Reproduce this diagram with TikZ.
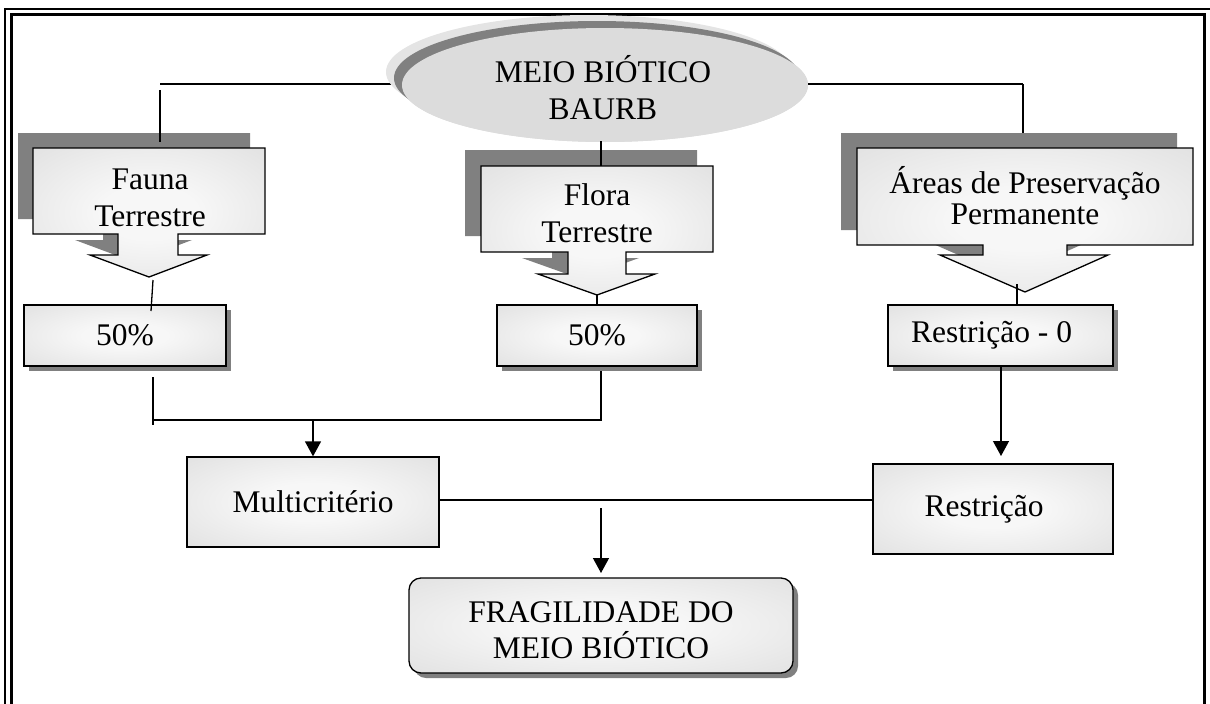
\documentclass[tikz,border=0pt]{standalone}
\usepackage{fontspec}
\setmainfont{Liberation Serif}
\usetikzlibrary{arrows.meta,shapes.geometric,shadows}
\definecolor{shad}{HTML}{808080}
\definecolor{lightshad}{HTML}{E4E4E4}
\definecolor{ellfill}{HTML}{DCDCDC}
\definecolor{glowin}{gray}{0.97}
\definecolor{glowout}{gray}{0.84}
\pgfdeclareradialshading{boxglow}{\pgfpoint{0bp}{0bp}}{color(0bp)=(glowin); color(10bp)=(glowin); color(50bp)=(glowout); color(80bp)=(glowout)}
\tikzset{
  txt/.style={font=\fontsize{31.5}{37}\selectfont, align=center, inner sep=0pt},
  plainbox/.style={draw, line width=1.3pt, shade, shading=boxglow, inner sep=0pt, font=\fontsize{31.5}{37}\selectfont, align=center},
  shadowbox/.style={plainbox, drop shadow={shadow xshift=5pt, shadow yshift=-5pt, fill=shad, opacity=1}},
  conn/.style={line width=1.3pt},
  arr/.style={conn, -{Triangle[width=16pt,length=15pt]}},
  calloutline/.style={draw, line width=1.3pt, shading=boxglow},
}
\begin{document}
\begin{tikzpicture}[x=1pt,y=-1pt]
\useasboundingbox (0,0) rectangle (1210,704);
\clip (0,0) rectangle (1210,704);
% frame
\draw[line width=2pt] (5.3,9) rectangle (1240,740);
\draw[line width=2.5pt] (11.3,14.7) rectangle (1204.5,735);

% ellipse
\node[ellipse, fill=ellfill, minimum width=406pt, minimum height=114pt, inner sep=0pt] (bio) at (605,85) {};
\coordinate (fauCorner) at (160,84);
\coordinate (appCorner) at (1023,84);
\draw[conn] (bio.west |- fauCorner) -- (fauCorner);
\draw[conn] (bio.east |- appCorner) -- (appCorner);
\fill[lightshad] (589,72) ellipse [x radius=203pt, y radius=57pt];
\fill[shad] (597,78) ellipse [x radius=203pt, y radius=57pt];
\fill[ellfill] (bio.center) ellipse [x radius=203pt, y radius=57pt];
\node[txt, font=\fontsize{31.5}{37}\selectfont] (bioTxt) at (603,88) {MEIO BIÓTICO\\BAURB};

% callout shadows
\begin{scope}[shift={(-15,-15)}]
\fill[shad] (33,148) -- (265,148) -- (265,234) -- (178,234) -- (178,255) -- (207,255) -- (149,277) -- (90,255) -- (118,255) -- (118,234) -- (33,234) -- cycle;
\end{scope}
\begin{scope}[shift={(-16,-16)}]
\fill[shad] (481,166) -- (713,166) -- (713,252) -- (626,252) -- (626,274) -- (655,274) -- (597,295) -- (538,274) -- (568,274) -- (568,252) -- (481,252) -- cycle;
\end{scope}
\begin{scope}[shift={(-16,-15)}]
\fill[shad] (857,148) -- (1193,148) -- (1193,245) -- (1067,245) -- (1067,255) -- (1108,255) -- (1025,292) -- (940,255) -- (983,255) -- (983,245) -- (857,245) -- cycle;
\end{scope}

% vertical connectors from top
\coordinate (fauA) at (160,90);
\coordinate (fauB) at (160,142);
\coordinate (bioS) at (601,141);
\coordinate (floN) at (601,166);
\coordinate (appB) at (1023,133);
\draw[conn] (fauA) -- (fauB);
\draw[conn] (bioS) -- (floN);
\draw[conn] (appCorner) -- (appB);

% callouts
\shadedraw[calloutline] (33,148) -- (265,148) -- (265,234) -- (178,234) -- (178,255) -- (207,255) -- (149,277) -- (90,255) -- (118,255) -- (118,234) -- (33,234) -- cycle;
\shadedraw[calloutline] (481,166) -- (713,166) -- (713,252) -- (626,252) -- (626,274) -- (655,274) -- (597,295) -- (538,274) -- (568,274) -- (568,252) -- (481,252) -- cycle;
\shadedraw[calloutline] (857,148) -- (1193,148) -- (1193,245) -- (1067,245) -- (1067,255) -- (1108,255) -- (1025,292) -- (940,255) -- (983,255) -- (983,245) -- (857,245) -- cycle;
\node[txt] (fauTxt) at (150,198) {Fauna\\Terrestre};
\node[txt] (floTxt) at (597,213) {Flora\\Terrestre};
\node[txt, font=\fontsize{31.5}{31}\selectfont] (appTxt) at (1025,196) {Áreas de Preservação\\Permanente};

% percentage boxes
\node[shadowbox, minimum width=202pt, minimum height=61pt] (p1) at (125,335.5) {50\%};
\node[shadowbox, minimum width=200pt, minimum height=61pt] (p2) at (597,335.5) {50\%};
\node[shadowbox, minimum width=225pt, minimum height=61pt] (r0) at (1000.5,335.5) {Restrição - 0\hspace*{18pt}};

\coordinate (fauTip) at (153,280);
\coordinate (p1In) at (151,311);
\coordinate (floTip) at (597,295);
\coordinate (appTip) at (1017,284);
\coordinate (r0In) at (1017,306);
\draw[conn] (fauTip) -- (p1In);
\draw[conn] (floTip) -- (p2.north);
\draw[conn] (appTip) -- (r0In);

% lower boxes
\node[plainbox, minimum width=252pt, minimum height=90pt] (multi) at (313,502) {Multicritério};
\node[plainbox, minimum width=240pt, minimum height=90pt] (restr) at (993,509) {Restrição\hspace*{18pt}};
\node[shadowbox, rounded corners=12pt, minimum width=384pt, minimum height=95pt] (frag) at (601,625.5) {};
\node[txt, font=\fontsize{31.5}{36}\selectfont] (fragTxt) at (601,630) {FRAGILIDADE DO\\MEIO BIÓTICO};

% merging connectors
\coordinate (p1B) at (153,377);
\coordinate (p1C) at (153,425);
\coordinate (joinL) at (153,420);
\coordinate (joinR) at (601,420);
\coordinate (p2B) at (601,371);
\coordinate (joinM) at (313,420);
\coordinate (r0B) at (1001,366);
\coordinate (r0Tip) at (1001,456);
\coordinate (lineY) at (0,500);
\coordinate (fragA) at (601,508);
\coordinate (fragTip) at (601,573);
\draw[conn] (p1B) -- (p1C);
\draw[conn] (joinL) -- (joinR) -- (p2B);
\draw[arr] (joinM) -- (multi.north);
\draw[arr] (r0B) -- (r0Tip);
\draw[conn] (multi.east |- lineY) -- (restr.west |- lineY);
\draw[arr] (fragA) -- (fragTip);
\end{tikzpicture}
\end{document}
